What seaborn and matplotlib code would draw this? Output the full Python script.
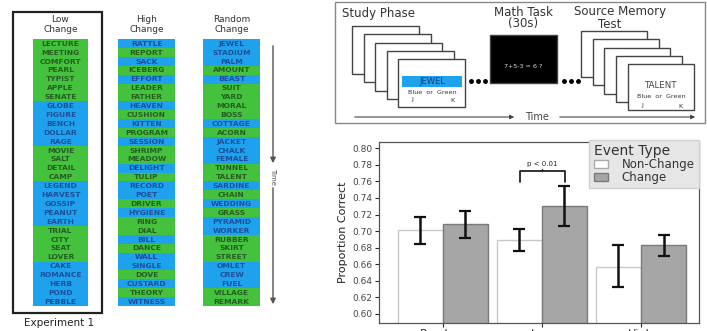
import numpy as np
import pandas as pd
import seaborn as sns
import matplotlib.pyplot as plt
from matplotlib.patches import Rectangle, Patch

# Listas de palabras (G = verde, B = azul)
low_words = ["LECTURE", "MEETING", "COMFORT", "PEARL", "TYPIST", "APPLE", "SENATE",
             "GLOBE", "FIGURE", "BENCH", "DOLLAR", "RAGE", "MOVIE", "SALT", "DETAIL",
             "CAMP", "LEGEND", "HARVEST", "GOSSIP", "PEANUT", "EARTH", "TRIAL", "CITY",
             "SEAT", "LOVER", "CAKE", "ROMANCE", "HERB", "POND", "PEBBLE"]
low_codes = "GGGGGGGBBBBBGGGGBBBBBGGGGBBBBB"

high_words = ["RATTLE", "REPORT", "SACK", "ICEBERG", "EFFORT", "LEADER", "FATHER",
              "HEAVEN", "CUSHION", "KITTEN", "PROGRAM", "SESSION", "SHRIMP", "MEADOW",
              "DELIGHT", "TULIP", "RECORD", "POET", "DRIVER", "HYGIENE", "RING", "DIAL",
              "BILL", "DANCE", "WALL", "SINGLE", "DOVE", "CUSTARD", "THEORY", "WITNESS"]
high_codes = "BGBGBGGBGBGBGGBGBBGBGGBGBBGBGB"

random_words = ["JEWEL", "STADIUM", "PALM", "AMOUNT", "BEAST", "SUIT", "YARD", "MORAL",
                "BOSS", "COTTAGE", "ACORN", "JACKET", "CHALK", "FEMALE", "TUNNEL", "TALENT",
                "SARDINE", "CHAIN", "WEDDING", "GRASS", "PYRAMID", "WORKER", "RUBBER",
                "SKIRT", "STREET", "OMLET", "CREW", "FUEL", "VILLAGE", "REMARK"]
random_codes = "BBBGBGGGGBGBBBGGBGBGBBGGGBBBGG"

# Resultados
conditions = ["Random", "Low", "High"]
events = ["Non-Change", "Change"]
nc_mean = [0.701, 0.689, 0.657]
c_mean = [0.708, 0.730, 0.683]
nc_lo = [0.684, 0.676, 0.632]
nc_hi = [0.717, 0.702, 0.683]
c_lo = [0.692, 0.706, 0.670]
c_hi = [0.724, 0.754, 0.695]

sns.set_style("ticks")
plt.rcParams['font.family'] = ['DejaVu Sans']

fig = plt.figure(figsize=(7.07, 3.31), dpi=100)
bg = fig.add_axes([0, 0, 1, 1])
bg.set_xlim(0, 707)
bg.set_ylim(331, 0)
bg.axis('off')

fill = {"G": "#45c23d", "B": "#1ea2ee"}
txt = {"G": "#245e22", "B": "#1b4f9a"}

# Columnas de palabras
cols = [(low_words, low_codes, 33, 55, ["Low", "Change"]),
        (high_words, high_codes, 118, 57, ["High", "Change"]),
        (random_words, random_codes, 203, 57, ["Random", "Change"])]
y0, rh = 39, 8.9
for words, codes, x0, w, head in cols:
    for i, (wd, cd) in enumerate(zip(words, codes)):
        bg.add_patch(Rectangle((x0, y0 + i * rh), w, rh, facecolor=fill[cd], edgecolor='none'))
        bg.text(x0 + w / 2, y0 + i * rh + rh / 2 + 0.3, wd, ha='center', va='center',
                fontsize=5.4, fontweight='bold', color=txt[cd])
    bg.text(x0 + w / 2, 19, head[0], ha='center', va='center', fontsize=6.5, color='#333333')
    bg.text(x0 + w / 2, 29, head[1], ha='center', va='center', fontsize=6.5, color='#333333')

bg.add_patch(Rectangle((13, 12), 89, 301, facecolor='none', edgecolor='#222222', lw=1.6))
bg.text(59, 323, "Experiment 1", ha='center', va='center', fontsize=7.5, color='#222222')

# Flecha de tiempo vertical
bg.annotate("", xy=(273, 166), xytext=(273, 43),
            arrowprops=dict(arrowstyle='-|>', color='#555555', lw=1, mutation_scale=8))
bg.text(273, 176, "Time", rotation=-90, ha='center', va='center', fontsize=5, color='#555555')
bg.annotate("", xy=(273, 307), xytext=(273, 185),
            arrowprops=dict(arrowstyle='-|>', color='#555555', lw=1, mutation_scale=8))

# Diagrama del procedimiento
bg.add_patch(Rectangle((335, 2), 370, 121, facecolor='white', edgecolor='#888888', lw=1))
bg.text(342, 13, "Study Phase", ha='left', va='center', fontsize=8.5, color='#333333')
bg.text(523, 12, "Math Task", ha='center', va='center', fontsize=8.5, color='#333333')
bg.text(523, 24, "(30s)", ha='center', va='center', fontsize=8.5, color='#333333')
bg.text(620, 12, "Source Memory", ha='center', va='center', fontsize=8.5, color='#333333')
bg.text(610, 25, "Test", ha='center', va='center', fontsize=8.5, color='#333333')

for k in range(5):
    bg.add_patch(Rectangle((352 + 11.5 * k, 26 + 8.3 * k), 67, 48,
                           facecolor='white', edgecolor='#444444', lw=1))
bg.add_patch(Rectangle((402, 76), 60, 11, facecolor='#1ea2ee', edgecolor='none'))
bg.text(432, 81.5, "JEWEL", ha='center', va='center', fontsize=6, color='#1b3f7a')
bg.text(432, 92.5, "Blue  or  Green", ha='center', va='center', fontsize=4.6, color='#333333')
bg.text(412, 100, "J", ha='center', va='center', fontsize=4.6, color='#333333')
bg.text(452, 100, "K", ha='center', va='center', fontsize=4.6, color='#333333')

bg.plot([471, 478, 485], [81, 81, 81], 'o', color='black', ms=2.5)
bg.add_patch(Rectangle((490, 35), 67, 48, facecolor='black', edgecolor='#444444', lw=1))
bg.text(523, 66, "7+5-3 = 6 ?", ha='center', va='center', fontsize=4.6, color='#dddddd')
bg.plot([564, 571, 578], [81, 81, 81], 'o', color='black', ms=2.5)

for k in range(5):
    bg.add_patch(Rectangle((581 + 11.7 * k, 31 + 8.3 * k), 66, 46,
                           facecolor='white', edgecolor='#444444', lw=1))
bg.text(661, 86, "TALENT", ha='center', va='center', fontsize=6.2, color='#444444')
bg.text(661, 97, "Blue  or  Green", ha='center', va='center', fontsize=4.6, color='#333333')
bg.text(642, 106, "J", ha='center', va='center', fontsize=4.6, color='#333333')
bg.text(680, 106, "K", ha='center', va='center', fontsize=4.6, color='#333333')

bg.annotate("", xy=(517, 117), xytext=(352, 117),
            arrowprops=dict(arrowstyle='-|>', color='#444444', lw=0.8, mutation_scale=6))
bg.text(537, 117, "Time", ha='center', va='center', fontsize=7, color='#444444')
bg.annotate("", xy=(698, 117), xytext=(557, 117),
            arrowprops=dict(arrowstyle='-|>', color='#444444', lw=0.8, mutation_scale=6))

# Grafico de barras
df = pd.DataFrame({
    'condition': conditions * 2,
    'event': [events[0]] * 3 + [events[1]] * 3,
    'prop': nc_mean + c_mean,
})
ax = fig.add_axes([379 / 707, 8 / 331, 320 / 707, 181 / 331])
sns.barplot(data=df, x='condition', y='prop', hue='event', order=conditions,
            hue_order=events, palette={'Non-Change': 'white', 'Change': '#a6a6a6'},
            width=0.91, errorbar=None, legend=False, ax=ax)

lo = nc_lo + c_lo
hi = nc_hi + c_hi
means = nc_mean + c_mean
for i, p in enumerate(ax.patches[:6]):
    p.set_edgecolor('#c8c8c8' if i < 3 else '#7a7a7a')
    p.set_linewidth(1)
    xc = p.get_x() + p.get_width() / 2
    ax.errorbar(xc, means[i], yerr=[[means[i] - lo[i]], [hi[i] - means[i]]],
                color='#111111', lw=1.8, capsize=4, capthick=1.6, zorder=5)

ax.set_ylim(0.589, 0.8076)
ax.set_xlim(-0.646, 2.586)
ax.set_yticks(np.arange(0.60, 0.801, 0.02))
ax.set_yticklabels([f"{v:.2f}" for v in np.arange(0.60, 0.801, 0.02)])
ax.tick_params(axis='y', labelsize=6.5, labelcolor='#444444', length=3, width=0.8, pad=2)
ax.tick_params(axis='x', labelsize=8, labelcolor='#333333', length=3, width=0.8, pad=1)
ax.set_xlabel("")
ax.set_ylabel("Proportion Correct", fontsize=8, color='#222222', labelpad=3)
for s in ax.spines.values():
    s.set_visible(True)
    s.set_color('#555555')
    s.set_linewidth(0.9)

# Corchete de significancia
ax.plot([0.78, 0.78, 1.23, 1.23], [0.7594, 0.7727, 0.7727, 0.7594], color='#222222', lw=1.3)
ax.plot([1.0, 1.0], [0.7727, 0.7745], color='#222222', lw=1)
ax.text(1.0, 0.7815, "p < 0.01", ha='center', va='center', fontsize=5, color='#222222')

handles = [Patch(facecolor='white', edgecolor='#aaaaaa'),
           Patch(facecolor='#a6a6a6', edgecolor='#7a7a7a')]
leg = ax.legend(handles, events, title='Event Type', loc='upper right',
                bbox_to_anchor=(1.0, 1.01), frameon=True, fancybox=False,
                facecolor='#e6e6e6', edgecolor='#d0d0d0', framealpha=1,
                fontsize=8.5, title_fontsize=10, labelspacing=0.0,
                handlelength=1.2, handleheight=0.7, handletextpad=1.2,
                borderaxespad=0, borderpad=0.35, alignment='left')
leg.get_title().set_color('#333333')
for t in leg.get_texts():
    t.set_color('#333333')

plt.savefig("out.png", dpi=100)
